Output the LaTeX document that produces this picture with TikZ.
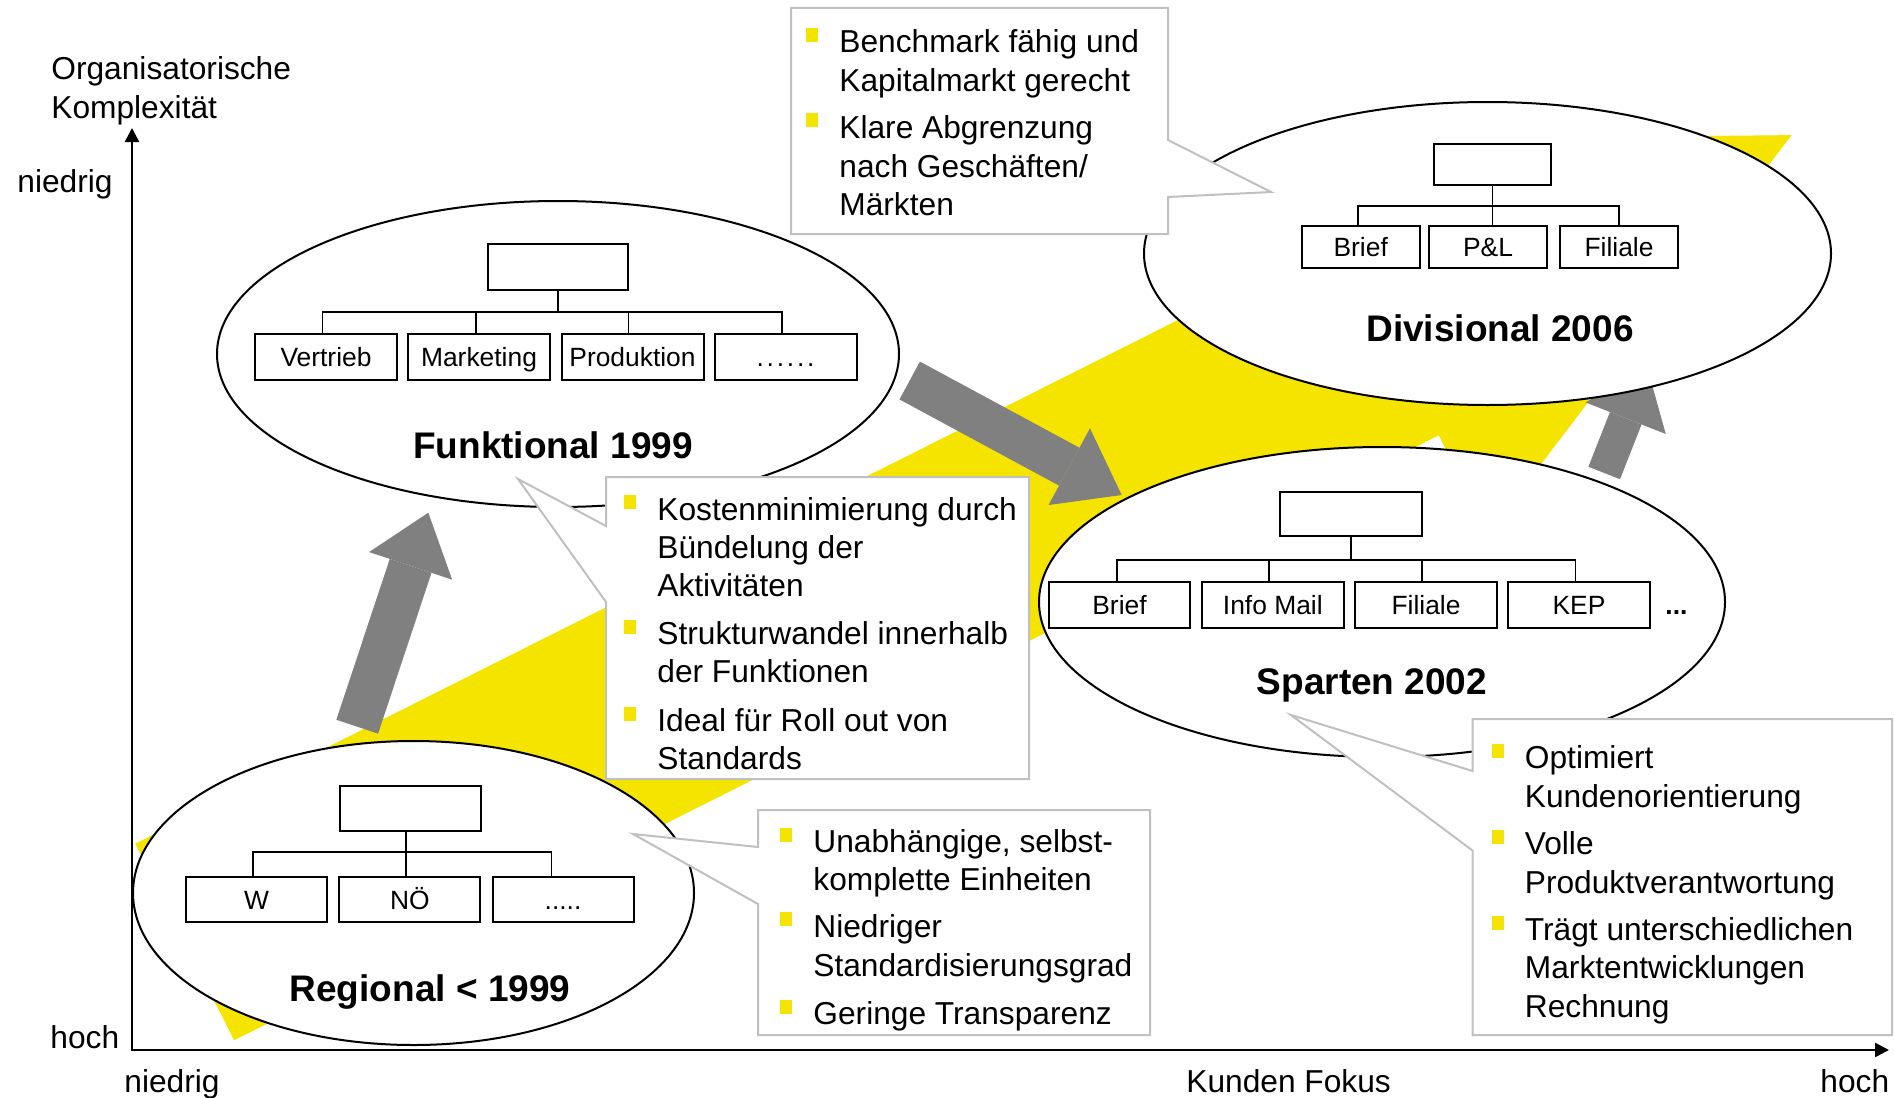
\documentclass[tikz,border=0pt]{standalone}
\usepackage{fontspec}
\setmainfont{Liberation Sans}
\usetikzlibrary{arrows.meta,shapes.geometric,calc}
\definecolor{yel}{RGB}{245,228,0}
\definecolor{arrgray}{RGB}{128,128,128}
\definecolor{cgray}{RGB}{192,192,192}
\newcommand\ctext[3]{\node[ctxt] (#1) at (#2) {#3};}
\newcommand\cbul[2]{\fill[yel] (#1-33,#2-25) rectangle ++(12,14);}
\begin{document}
\begin{tikzpicture}[x=0.5pt,y=-0.5pt,
  ctxt/.style={inner sep=0pt, anchor=base west, font=\fontsize{15.85pt}{19pt}\selectfont},
  title/.style={inner sep=0pt, anchor=base, font=\fontsize{18.5pt}{22pt}\selectfont\bfseries},
  orgbox/.style={draw, line width=1pt, fill=white, inner sep=0pt, font=\fontsize{13.2pt}{15pt}\selectfont, text height=9.45pt, text depth=0pt},
  orgline/.style={line width=0.9pt},
  oval/.style={ellipse, draw, line width=1pt, fill=white, inner sep=0pt},
  callout/.style={draw=cgray, line width=1pt, fill=white, line join=miter},
  garrow/.style={draw=arrgray},
  axisline/.style={line width=1.2pt, -{Triangle[length=7pt,width=7pt]}}
]
\useasboundingbox (0,0) rectangle (1894,1097);

% big yellow arrow
\fill[yel] (234.1,1040.3) -- (1438.8,435.3) -- (1488.1,533.6) -- (1791.6,135.1)
  -- (1290.7,140.4) -- (1340,238.7) -- (135.3,843.7) -- cycle;

% gray arrows
\coordinate (a1s) at (357.2,726.7); \coordinate (a1e) at (428.3,512.7);
\coordinate (a2s) at (909.7,380.5); \coordinate (a2e) at (1121.7,495);
\coordinate (a3s) at (1604.2,473);  \coordinate (a3e) at (1646.6,365.2);
\draw[garrow, line width=22pt, -{Triangle[length=28pt,width=43.75pt,line width=0pt]}] (a1s) -- (a1e);
\draw[garrow, line width=21.5pt, -{Triangle[length=29.8pt,width=43.6pt,line width=0pt]}] (a2s) -- (a2e);
\draw[garrow, line width=17pt, -{Triangle[length=28.5pt,width=43pt,line width=0pt]}] (a3s) -- (a3e);

% ellipses
\node[oval, minimum width=341pt, minimum height=153pt] (fe) at (558,354) {};
\node[oval, minimum width=343.5pt, minimum height=151.5pt] (de) at (1487.5,253.5) {};
\node[oval, minimum width=343pt, minimum height=155pt] (se) at (1382,602) {};
\node[oval, minimum width=280.5pt, minimum height=152pt] (re) at (413.5,893) {};

% Funktional org chart
\node[orgbox, minimum width=70pt, minimum height=23pt] (ftop) at (558,267) {};
\node[orgbox, minimum width=71pt, minimum height=23pt] (f1) at (326,357) {Vertrieb};
\node[orgbox, minimum width=71pt, minimum height=23pt] (f2) at (479,357) {Marketing};
\node[orgbox, minimum width=71pt, minimum height=23pt] (f3) at (632.5,357) {Produktion};
\node[orgbox, minimum width=71pt, minimum height=23pt] (f4) at (785.5,357) {.\kern1.4pt.\kern1.4pt.\kern1.4pt.\kern1.4pt.\kern1.4pt.};
\coordinate (fbus) at (0,312);
\draw[orgline] (ftop.south) -- (ftop.south |- fbus);
\draw[orgline] ([xshift=-1.75pt]f1.north) -- ([xshift=-1.75pt]f1.north |- fbus) -- ([xshift=-1.75pt]f4.north |- fbus) -- ([xshift=-1.75pt]f4.north);
\draw[orgline] ([xshift=-1.5pt]f2.north) -- ([xshift=-1.5pt]f2.north |- fbus);
\draw[orgline] ([xshift=-2pt]f3.north) -- ([xshift=-2pt]f3.north |- fbus);
\node[title] (ft) at (553,458) {Funktional 1999};

% Divisional org chart
\node[orgbox, minimum width=58.5pt, minimum height=20.5pt] (dtop) at (1492.5,164.5) {};
\node[orgbox, minimum width=59pt, minimum height=21.2pt] (d1) at (1360.7,246.8) {Brief};
\node[orgbox, minimum width=59pt, minimum height=21.2pt] (d2) at (1488,246.8) {P\&L};
\node[orgbox, minimum width=59pt, minimum height=21.2pt] (d3) at (1619,246.8) {Filiale};
\coordinate (dbus) at (0,206);
\draw[orgline] (dtop.south) -- (dtop.south |- d2.north);
\draw[orgline] ([xshift=-1.3pt]d1.north) -- ([xshift=-1.3pt]d1.north |- dbus) -- (d3.north |- dbus) -- (d3.north);
\node[title] (dt) at (1500,341) {Divisional 2006};

% Sparten org chart
\node[orgbox, minimum width=71pt, minimum height=22pt] (stop) at (1351,514) {};
\node[orgbox, minimum width=70.75pt, minimum height=22.85pt] (s1) at (1119.5,604.8) {Brief};
\node[orgbox, minimum width=70.75pt, minimum height=22.85pt] (s2) at (1272.8,604.8) {Info Mail};
\node[orgbox, minimum width=70.75pt, minimum height=22.85pt] (s3) at (1426,604.8) {Filiale};
\node[orgbox, minimum width=70.75pt, minimum height=22.85pt] (s4) at (1579,604.8) {KEP};
\coordinate (sbus) at (0,560);
\draw[orgline] (stop.south) -- (stop.south |- sbus);
\draw[orgline] ([xshift=-1.25pt]s1.north) -- ([xshift=-1.25pt]s1.north |- sbus) -- ([xshift=-1.75pt]s4.north |- sbus) -- ([xshift=-1.75pt]s4.north);
\draw[orgline] ([xshift=-1.75pt]s2.north) -- ([xshift=-1.75pt]s2.north |- sbus);
\draw[orgline] ([xshift=-2pt]s3.north) -- ([xshift=-2pt]s3.north |- sbus);
\node[inner sep=0pt, anchor=base west, font=\fontsize{13.2pt}{15pt}\selectfont\bfseries] (sdots) at (1665,614.7) {...};
\node[title] (st) at (1372,694) {Sparten 2002};

% Regional org chart
\node[orgbox, minimum width=70.5pt, minimum height=22.5pt] (rtop) at (410,808.5) {};
\node[orgbox, minimum width=70.5pt, minimum height=22.7pt] (r1) at (256.5,899.7) {W};
\node[orgbox, minimum width=70.5pt, minimum height=22.7pt] (r2) at (409.8,899.7) {NÖ};
\node[orgbox, minimum width=70.5pt, minimum height=22.7pt] (r3) at (563,899.7) {.....};
\coordinate (rbus) at (0,852);
\draw[orgline] ([xshift=-2pt]rtop.south) -- ([xshift=-2pt]rtop.south |- r2.north);
\draw[orgline] ([xshift=-1.6pt]r1.north) -- ([xshift=-1.6pt]r1.north |- rbus) -- ([xshift=-5.75pt]r3.north |- rbus) -- ([xshift=-5.75pt]r3.north);
\node[title] (rt) at (430,1001) {Regional < 1999};

% callout 1 (Divisional)
\draw[callout] (791,8) -- (1168,8) -- (1168,140) -- (1271,192) -- (1168,197) -- (1168,234) -- (791,234) -- cycle;
\cbul{839}{53}
\ctext{c1a}{839,53}{Benchmark fähig und}
\ctext{c1b}{839,91.5}{Kapitalmarkt gerecht}
\cbul{839}{138.5}
\ctext{c1c}{839,138.5}{Klare Abgrenzung}
\ctext{c1d}{839,177}{nach Geschäften/}
\ctext{c1e}{839,215.5}{Märkten}

% callout 2 (Funktional)
\draw[callout] (606,477) -- (1029,477) -- (1029,779) -- (606,779) -- (606,602) -- (518,479) -- (606,526) -- cycle;
\cbul{657}{520}
\ctext{c2a}{657,520}{Kostenminimierung durch}
\ctext{c2b}{657,558.5}{Bündelung der}
\ctext{c2c}{657,596.5}{Aktivitäten}
\cbul{657}{644.5}
\ctext{c2d}{657,644.5}{Strukturwandel innerhalb}
\ctext{c2e}{657,682}{der Funktionen}
\cbul{657}{731.5}
\ctext{c2f}{657,731.5}{Ideal für Roll out von}
\ctext{c2g}{657,769}{Standards}

% callout 3 (Regional)
\draw[callout] (758,810) -- (1150,810) -- (1150,1035) -- (758,1035) -- (758,904) -- (633,834) -- (758,847) -- cycle;
\cbul{813}{852.5}
\ctext{c3a}{813,852.5}{Unabhängige, selbst-}
\ctext{c3b}{813,890}{komplette Einheiten}
\cbul{813}{937}
\ctext{c3c}{813,937}{Niedriger}
\ctext{c3d}{813,976}{Standardisierungsgrad}
\cbul{813}{1024.5}
\ctext{c3e}{813,1024.5}{Geringe Transparenz}

% callout 4 (Sparten)
\draw[callout] (1472.5,719) -- (1892,719) -- (1892,1035) -- (1472.5,1035) -- (1472.5,850.5) -- (1291,715) -- (1472.5,771) -- cycle;
\cbul{1524.5}{768.5}
\ctext{c4a}{1524.5,768.5}{Optimiert}
\ctext{c4b}{1524.5,807}{Kundenorientierung}
\cbul{1524.5}{854.5}
\ctext{c4c}{1524.5,854.5}{Volle}
\ctext{c4d}{1524.5,893}{Produktverantwortung}
\cbul{1524.5}{940.5}
\ctext{c4e}{1524.5,940.5}{Trägt unterschiedlichen}
\ctext{c4f}{1524.5,978.5}{Marktentwicklungen}
\ctext{c4g}{1524.5,1017.5}{Rechnung}

% axes
\coordinate (O) at (132,1050);
\coordinate (ytop) at (132,128);
\coordinate (xend) at (1889,1050);
\draw[axisline] ([yshift=-0.6pt]O) -- (ytop);
\draw[axisline] (O) -- (xend);
\ctext{yl1}{51,80}{Organisatorische}
\ctext{yl2}{51,118.5}{Komplexität}
\ctext{ylo}{17,192}{niedrig}
\ctext{yhi}{50,1048}{hoch}
\ctext{xlo}{124,1092}{niedrig}
\ctext{xmid}{1186,1092}{Kunden Fokus}
\ctext{xhi}{1820,1092}{hoch}
\end{tikzpicture}
\end{document}
